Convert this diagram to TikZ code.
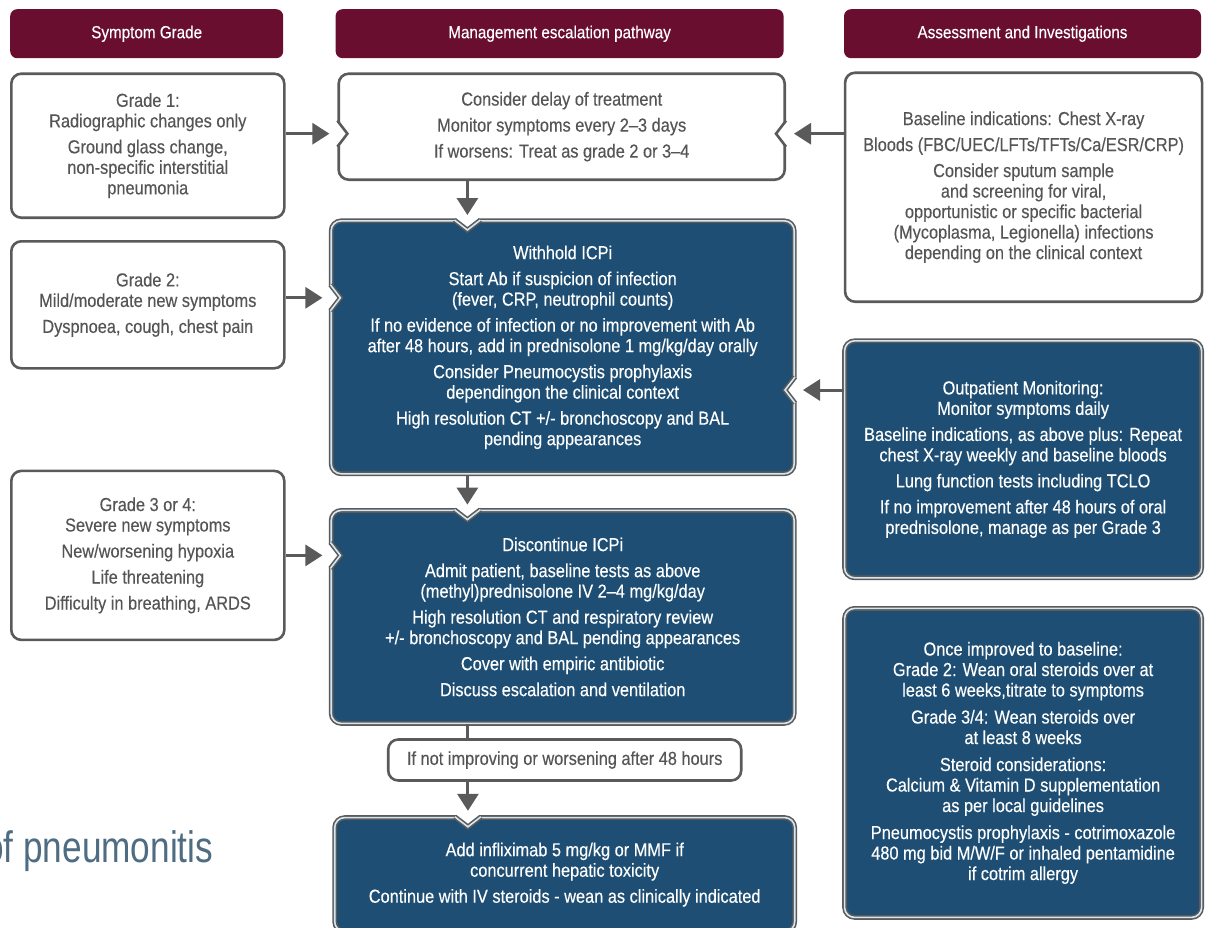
\documentclass[tikz,border=0pt]{standalone}
\usepackage{fontspec}
\setmainfont{Liberation Sans}[FakeStretch=0.87, FakeBold=0.25]
\newfontfamily\titlefont{Liberation Sans}[FakeStretch=0.8]
\usetikzlibrary{positioning,arrows.meta,calc}
\definecolor{headMaroon}{HTML}{6A0E2F}
\definecolor{stepBlue}{HTML}{1E4E73}
\definecolor{edgeGrey}{HTML}{5A5A5A}
\definecolor{innerLine}{HTML}{D5E7F3}
\definecolor{liteText}{HTML}{555555}
\definecolor{titleBlue}{HTML}{4E6C82}
\newcommand{\boxfont}{\fontsize{18.8}{20.5}\selectfont}
\newcommand{\hdrfont}{\fontsize{17.5}{19}\selectfont}
% V-shaped notches where an arrow meets a box
\newcommand{\notchW}[2]{%
  \fill[white] ($(#1)+(-4,-11)$) -- ($(#1)+(0,-11)$) -- ($(#1)+(10,0)$) -- ($(#1)+(0,11)$) -- ($(#1)+(-4,11)$) -- cycle;
  \draw[#2] ($(#1)+(0,-13)$) -- ($(#1)+(10,0)$) -- ($(#1)+(0,13)$);}
\newcommand{\notchE}[2]{%
  \fill[white] ($(#1)+(4,-11)$) -- ($(#1)+(0,-11)$) -- ($(#1)+(-10,0)$) -- ($(#1)+(0,11)$) -- ($(#1)+(4,11)$) -- cycle;
  \draw[#2] ($(#1)+(0,-13)$) -- ($(#1)+(-10,0)$) -- ($(#1)+(0,13)$);}
\newcommand{\notchN}[2]{%
  \fill[white] ($(#1)+(-11,-4)$) -- ($(#1)+(-11,0)$) -- ($(#1)+(0,10)$) -- ($(#1)+(11,0)$) -- ($(#1)+(11,-4)$) -- cycle;
  \draw[#2] ($(#1)+(-13,0)$) -- ($(#1)+(0,10)$) -- ($(#1)+(13,0)$);}

\begin{document}
\begin{tikzpicture}[x=1pt, y=-1pt, >=Stealth,
    hdr/.style={fill=headMaroon, rounded corners=7pt, text=white, font=\hdrfont, minimum height=49pt, inner sep=0pt, anchor=north west},
    lite/.style={draw=edgeGrey, line width=2.6pt, fill=white, rounded corners=10pt, text=liteText, font=\boxfont, align=center, inner sep=0pt},
    dark/.style={draw=edgeGrey, double=innerLine, double distance=1.6pt, line width=1.6pt, fill=stepBlue, rounded corners=10pt, text=white, font=\boxfont, align=center, inner sep=0pt},
    edgeL/.style={draw=edgeGrey, line width=2.6pt},
    edgeD/.style={draw=edgeGrey, double=innerLine, double distance=1.6pt, line width=1.6pt},
    arr/.style={-{Triangle[length=17pt, width=21pt]}, edgeGrey, line width=3pt}]
  \useasboundingbox (0,0) rectangle (1208,927);
  % column headers
  \node[hdr, minimum width=273pt] (hSym) at (10,9) {Symptom Grade};
  \node[hdr, minimum width=448pt, right=52pt of hSym.north east, anchor=north west] (hMgmt) {Management escalation pathway};
  \node[hdr, minimum width=357pt, right=60pt of hMgmt.north east, anchor=north west] (hAss) {Assessment and Investigations};
  % symptom grades
  \node[lite, minimum width=273pt, minimum height=144pt, below=14pt of hSym.south west, anchor=north west] (g1)
    {Grade 1:\\Radiographic changes only\\[5.5pt]Ground glass change,\\non-specific interstitial\\pneumonia};
  \node[lite, minimum width=273pt, minimum height=127pt, below=21pt of g1.south west, anchor=north west] (g2)
    {Grade 2:\\Mild/moderate new symptoms\\[5.5pt]Dyspnoea, cough, chest pain};
  \node[lite, minimum width=273pt, minimum height=169pt, below=100pt of g2.south west, anchor=north west] (g3)
    {Grade 3 or 4:\\Severe new symptoms\\[5.5pt]New/worsening hypoxia\\[5.5pt]Life threatening\\[5.5pt]Difficulty in breathing, ARDS};
  % management pathway
  \node[lite, minimum width=446pt, minimum height=106pt, below=14pt of hMgmt.south west, anchor=north west, xshift=2pt] (delay)
    {Consider delay of treatment\\[5.5pt]Monitor symptoms every 2--3 days\\[5.5pt]If worsens: Treat as grade 2 or 3--4};
  \node[dark, minimum width=463pt, minimum height=253pt, below=39pt of delay.south west, anchor=north west, xshift=-7pt] (withhold)
    {Withhold ICPi\\[5.5pt]Start Ab if suspicion of infection\\(fever, CRP, neutrophil counts)\\[5.5pt]If no evidence of infection or no improvement with Ab\\after 48 hours, add in prednisolone 1 mg/kg/day orally\\[5.5pt]Consider Pneumocystis prophylaxis\\dependingon the clinical context\\[5.5pt]High resolution CT +/- bronchoscopy and BAL\\pending appearances};
  \node[dark, minimum width=463pt, minimum height=213pt, below=35pt of withhold.south west, anchor=north west] (discont)
    {Discontinue ICPi\\[5.5pt]Admit patient, baseline tests as above\\(methyl)prednisolone IV 2--4 mg/kg/day\\[5.5pt]High resolution CT and respiratory review\\+/- bronchoscopy and BAL pending appearances\\[5.5pt]Cover with empiric antibiotic\\[5.5pt]Discuss escalation and ventilation};
  \node[lite, minimum width=353pt, minimum height=41pt, below=14pt of discont.south, anchor=north, xshift=2pt] (ifnot)
    {If not improving or worsening after 48 hours};
  \node[dark, minimum width=460pt, minimum height=114pt, below=35pt of ifnot.south, anchor=north] (infli)
    {Add infliximab 5 mg/kg or MMF if\\concurrent hepatic toxicity\\[5.5pt]Continue with IV steroids - wean as clinically indicated};
  % assessment column
  \node[lite, minimum width=357pt, minimum height=229pt, below=13pt of hAss.south west, anchor=north west] (assess)
    {Baseline indications: Chest X-ray\\[5.5pt]Bloods (FBC/UEC/LFTs/TFTs/Ca/ESR/CRP)\\[5.5pt]Consider sputum sample\\and screening for viral,\\opportunistic or specific bacterial\\(Mycoplasma, Legionella) infections\\depending on the clinical context};
  \node[dark, minimum width=357pt, minimum height=237pt, below=37pt of assess.south west, anchor=north west] (outpt)
    {Outpatient Monitoring:\\Monitor symptoms daily\\[5.5pt]Baseline indications, as above plus: Repeat\\chest X-ray weekly and baseline bloods\\[5.5pt]Lung function tests including TCLO\\[5.5pt]If no improvement after 48 hours of oral\\prednisolone, manage as per Grade 3};
  \node[dark, minimum width=357pt, minimum height=309pt, below=29pt of outpt.south west, anchor=north west] (wean)
    {Once improved to baseline:\\Grade 2: Wean oral steroids over at\\least 6 weeks,titrate to symptoms\\[6.5pt]Grade 3/4: Wean steroids over\\at least 8 weeks\\[6.5pt]Steroid considerations:\\Calcium \& Vitamin D supplementation\\as per local guidelines\\[6.5pt]Pneumocystis prophylaxis - cotrimoxazole\\480 mg bid M/W/F or inhaled pentamidine\\if cotrim allergy};
  \node[font=\titlefont\fontsize{44}{44}\selectfont, text=titleBlue, anchor=base west, inner sep=0pt] (title) at (-16,862) {of pneumonitis};
  % notch points
  \coordinate (nDelayW) at ($(delay.west)+(0,7)$);
  \coordinate (nDelayE) at ($(delay.east)+(0,7)$);
  \coordinate (nHoldW) at ($(withhold.west |- g2.east)+(0,-7)$);
  \coordinate (nHoldE) at ($(withhold.east |- outpt.north)+(0,50)$);
  \coordinate (nHoldN) at ($(withhold.north west)+(137,0)$);
  \coordinate (nStopW) at (discont.west |- g3.east);
  \coordinate (nStopN) at ($(discont.north west)+(137,0)$);
  \coordinate (nInfN) at ($(infli.north west)+(134,0)$);
  \notchW{nDelayW}{edgeL}
  \notchE{nDelayE}{edgeL}
  \notchW{nHoldW}{edgeD}
  \notchE{nHoldE}{edgeD}
  \notchN{nHoldN}{edgeD}
  \notchW{nStopW}{edgeD}
  \notchN{nStopN}{edgeD}
  \notchN{nInfN}{edgeD}
  % connectors
  \draw[arr] (g1.east |- nDelayW) -- ([xshift=-8pt]nDelayW);
  \draw[arr] (assess.west |- nDelayE) -- ([xshift=8pt]nDelayE);
  \draw[arr] (g2.east |- nHoldW) -- ([xshift=-8pt]nHoldW);
  \draw[arr] (outpt.west |- nHoldE) -- ([xshift=8pt]nHoldE);
  \draw[arr] (g3.east |- nStopW) -- ([xshift=-8pt]nStopW);
  \draw[arr] (delay.south -| nHoldN) -- ([yshift=5pt]nHoldN);
  \draw[arr] (withhold.south -| nStopN) -- ([yshift=5pt]nStopN);
  \draw[edgeGrey, line width=3pt] (discont.south -| nStopN) -- (ifnot.north -| nStopN);
  \draw[arr] (ifnot.south -| nInfN) -- ([yshift=6pt]nInfN);
\end{tikzpicture}
\end{document}
